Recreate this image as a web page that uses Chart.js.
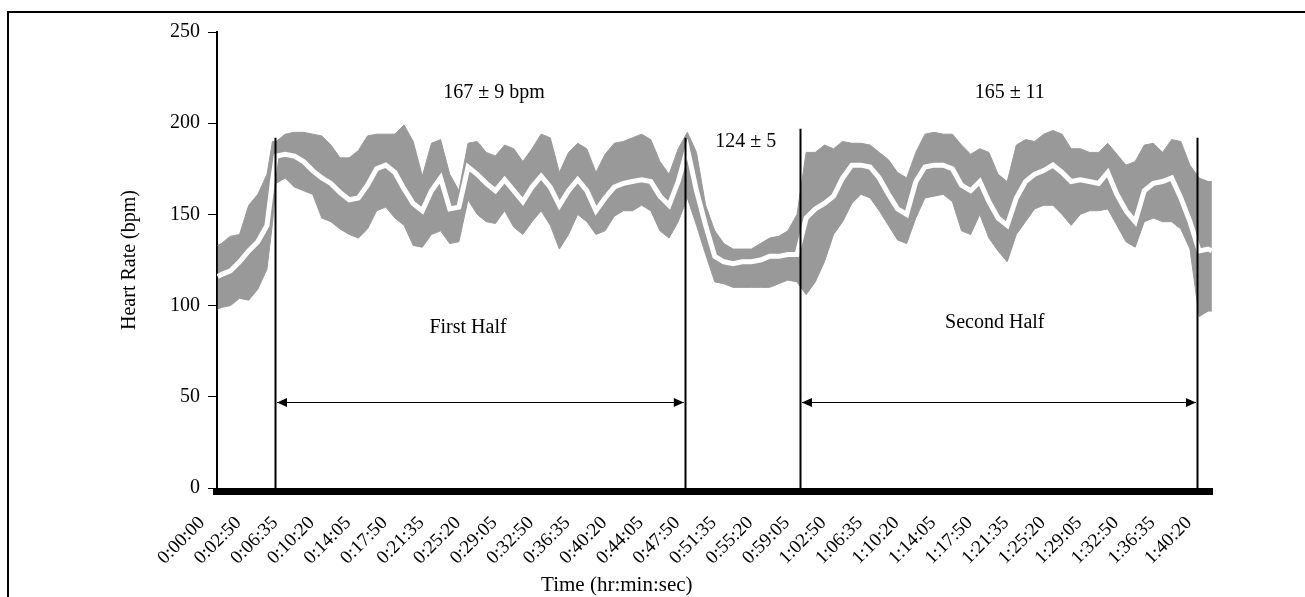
<!DOCTYPE html>
<html>
<head>
<meta charset="utf-8">
<title>Heart rate during the match</title>
<script src="https://cdn.jsdelivr.net/npm/chart.js@4.4.1/dist/chart.umd.min.js"></script>
<style>
  html, body { margin: 0; padding: 0; background: #fff; overflow: hidden; }
  #hrChart { display: block; }
</style>
</head>
<body>
<canvas id="hrChart" width="1305" height="597"></canvas>
<script>
// tick labels on the time axis (one every 3:45 after the second one)
const tickLabels = [
  "0:00:00", "0:02:50", "0:06:35", "0:10:20", "0:14:05", "0:17:50", "0:21:35",
  "0:25:20", "0:29:05", "0:32:50", "0:36:35", "0:40:20", "0:44:05", "0:47:50",
  "0:51:35", "0:55:20", "0:59:05", "1:02:50", "1:06:35", "1:10:20", "1:14:05",
  "1:17:50", "1:21:35", "1:25:20", "1:29:05", "1:32:50", "1:36:35", "1:40:20"
];

// sample positions, in tick units (0 = first label)
const sampleAt = [
  0.4, 0.5, 0.75, 1, 1.25, 1.5, 1.75, 1.9, 2, 2.25, 2.5, 2.75, 3, 3.25, 3.5, 3.75,
  4, 4.25, 4.5, 4.75, 5, 5.25, 5.5, 5.75, 6, 6.25, 6.5, 6.75, 7, 7.25, 7.5, 7.75,
  8, 8.25, 8.5, 8.75, 9, 9.25, 9.5, 9.75, 10, 10.25, 10.5, 10.75, 11, 11.25, 11.5, 11.75,
  12, 12.25, 12.5, 12.75, 13, 13.25, 13.5, 13.75, 14, 14.25, 14.5, 14.75, 15, 15.25, 15.5, 15.75,
  16, 16.25, 16.5, 16.75, 17, 17.25, 17.5, 17.75, 18, 18.25, 18.5, 18.75, 19, 19.25, 19.5, 19.75,
  20, 20.25, 20.5, 20.75, 21, 21.25, 21.5, 21.75, 22, 22.25, 22.5, 22.75, 23, 23.25, 23.5, 23.75,
  24, 24.25, 24.5, 24.75, 25, 25.25, 25.5, 25.75, 26, 26.25, 26.5, 26.75, 27, 27.25, 27.5, 27.6
];

// mean + SD (top of grey band)
const upperHR = [
  133, 134, 138, 139, 155, 161, 172, 190, 190, 194, 195, 195, 194, 193, 188, 181,
  181, 185, 193, 194, 194, 194, 199, 190, 171, 189, 191, 172, 163, 189, 190, 184,
  182, 188, 186, 179, 186, 194, 192, 173, 184, 189, 186, 173, 183, 189, 190, 192,
  194, 191, 179, 172, 186, 195, 184, 155, 141, 134, 131, 131, 131, 134, 137, 138,
  141, 150, 184, 184, 188, 186, 190, 189, 189, 188, 184, 180, 173, 170, 184, 194,
  195, 194, 194, 188, 183, 186, 184, 172, 168, 188, 191, 190, 194, 196, 194, 186,
  186, 184, 184, 189, 183, 177, 179, 188, 189, 184, 191, 190, 177, 170, 168, 168
];

// mean heart rate (white line)
const meanHR = [
  116, 117, 119, 124, 130, 135, 144, 168, 182, 183, 182, 179, 174, 170, 167, 162,
  158, 159, 166, 175, 177, 173, 164, 156, 152, 163, 170, 153, 154, 176, 172, 167,
  163, 169, 163, 157, 165, 171, 165, 155, 163, 169, 163, 152, 159, 165, 167, 168,
  169, 168, 160, 155, 168, 186, 163, 144, 127, 124, 123, 124, 124, 125, 127, 127,
  128, 128, 148, 153, 156, 160, 170, 177, 177, 176, 170, 161, 153, 150, 168, 176,
  177, 177, 175, 166, 163, 168, 157, 148, 144, 159, 168, 172, 174, 177, 173, 168,
  169, 168, 167, 173, 161, 152, 146, 163, 167, 168, 170, 159, 146, 130, 131, 130
];

// mean - SD (bottom of grey band)
const lowerHR = [
  98, 99, 100, 104, 103, 109, 120, 145, 167, 170, 165, 163, 161, 148, 146, 142,
  139, 137, 142, 152, 154, 148, 144, 133, 132, 139, 141, 134, 135, 158, 150, 146,
  145, 152, 143, 139, 146, 152, 144, 131, 139, 150, 146, 139, 141, 149, 152, 152,
  155, 152, 141, 137, 146, 159, 144, 128, 113, 112, 110, 110, 110, 110, 110, 112,
  114, 113, 106, 113, 124, 139, 146, 156, 161, 159, 152, 144, 136, 134, 148, 159,
  160, 161, 157, 141, 139, 150, 137, 130, 124, 139, 146, 153, 155, 155, 150, 144,
  150, 152, 152, 153, 144, 135, 132, 146, 148, 146, 146, 142, 131, 94, 97, 97
];

// period boundaries (tick units) and how high each marker line reaches (bpm)
const phaseLines = [1.97, 13.18, 16.33, 27.19];
const phaseLineTops = [192, 192, 197, 192];
const phaseStats = ["167 ± 9 bpm", "124 ± 5", "165 ± 11"];
const halfLabels = ["First Half", "Second Half"];

const FONT = "'Liberation Serif', 'Times New Roman', serif";
const GREY = "#999999";

const pts = (ys) => sampleAt.map((x, i) => ({ x: x, y: ys[i] }));

// annotation layout (tick units / bpm)
const statPos = [[7.96, 216.6], [14.85, 189.7], [22.07, 216.6]];
const halfPos = [[7.25, 87.7], [21.66, 90.5]];
const arrowHR = 47;

// picture frame (top and left edges only)
const frame = {
  id: "frame",
  beforeDraw(chart) {
    const { ctx, width, height } = chart;
    ctx.save();
    ctx.fillStyle = "#000";
    ctx.fillRect(7, 11, width - 7, 2);
    ctx.fillRect(7, 11, 2, height - 11);
    ctx.restore();
  }
};

const overlay = {
  id: "overlay",
  afterDatasetsDraw(chart) {
    const { ctx, chartArea, scales } = chart;
    const xs = scales.x, ys = scales.y;
    ctx.save();
    ctx.fillStyle = "#000";
    ctx.strokeStyle = "#000";

    // heavy baseline
    ctx.fillRect(chartArea.left - 4, chartArea.bottom, chartArea.right - chartArea.left + 4, 7);

    // period markers
    ctx.lineWidth = 2;
    phaseLines.forEach((v, i) => {
      const px = Math.round(xs.getPixelForValue(v)) + 0.5;
      ctx.beginPath();
      ctx.moveTo(px, ys.getPixelForValue(phaseLineTops[i]));
      ctx.lineTo(px, ys.getPixelForValue(0));
      ctx.stroke();
    });

    // double arrows for each half
    const ay = Math.round(ys.getPixelForValue(arrowHR)) + 0.5;
    [[0, 1], [2, 3]].forEach(([a, b]) => {
      const x1 = xs.getPixelForValue(phaseLines[a]) + 2;
      const x2 = xs.getPixelForValue(phaseLines[b]) - 1;
      ctx.lineWidth = 1;
      ctx.beginPath();
      ctx.moveTo(x1, ay);
      ctx.lineTo(x2, ay);
      ctx.stroke();
      ctx.beginPath();
      ctx.moveTo(x1, ay); ctx.lineTo(x1 + 10, ay - 4.5); ctx.lineTo(x1 + 10, ay + 4.5);
      ctx.closePath(); ctx.fill();
      ctx.beginPath();
      ctx.moveTo(x2, ay); ctx.lineTo(x2 - 10, ay - 4.5); ctx.lineTo(x2 - 10, ay + 4.5);
      ctx.closePath(); ctx.fill();
    });

    // texts
    ctx.font = "20px " + FONT;
    ctx.textAlign = "center";
    ctx.textBaseline = "middle";
    phaseStats.forEach((t, i) => {
      ctx.fillText(t, xs.getPixelForValue(statPos[i][0]), ys.getPixelForValue(statPos[i][1]));
    });
    halfLabels.forEach((t, i) => {
      ctx.fillText(t, xs.getPixelForValue(halfPos[i][0]), ys.getPixelForValue(halfPos[i][1]));
    });
    ctx.font = "21px " + FONT;
    ctx.fillText("Time (hr:min:sec)", xs.getPixelForValue(11.32), chartArea.bottom + 97);
    ctx.restore();
  }
};

new Chart(document.getElementById("hrChart"), {
  type: "line",
  data: {
    datasets: [
      { label: "Mean", data: pts(meanHR), borderColor: "#ffffff", borderWidth: 5,
        pointRadius: 0, fill: false, tension: 0 },
      { label: "Mean + SD", data: pts(upperHR), borderColor: GREY, borderWidth: 1,
        backgroundColor: GREY, pointRadius: 0, fill: "+1", tension: 0 },
      { label: "Mean - SD", data: pts(lowerHR), borderColor: GREY, borderWidth: 1,
        pointRadius: 0, fill: false, tension: 0 }
    ]
  },
  options: {
    responsive: false,
    animation: false,
    devicePixelRatio: 1,
    layout: { padding: { top: 32, right: 92, left: 0, bottom: 0 } },
    plugins: { legend: { display: false }, tooltip: { enabled: false } },
    scales: {
      x: {
        type: "linear",
        min: 0.383,
        max: 27.63,
        afterBuildTicks: (s) => { s.ticks = tickLabels.map((_, i) => ({ value: i })); },
        afterFit: (s) => { s.height = 109; },
        ticks: {
          autoSkip: false, minRotation: 45, maxRotation: 45,
          labelOffset: -1, padding: 24, color: "#000",
          font: { family: FONT, size: 19 },
          callback: (v) => tickLabels[Math.round(v)]
        },
        grid: { display: false, drawTicks: false },
        border: { display: false }
      },
      y: {
        min: 0,
        max: 250,
        afterFit: (s) => { s.width = 217; },
        ticks: { stepSize: 50, padding: 8, color: "#000", font: { family: FONT, size: 20 } },
        grid: { drawOnChartArea: false, tickLength: 9, color: "#000", lineWidth: 1 },
        border: { color: "#000", width: 2 },
        title: { display: true, text: "Heart Rate (bpm)", color: "#000",
                 font: { family: FONT, size: 20 }, padding: { top: 118 } }
      }
    }
  },
  plugins: [frame, overlay]
});
</script>
</body>
</html>
